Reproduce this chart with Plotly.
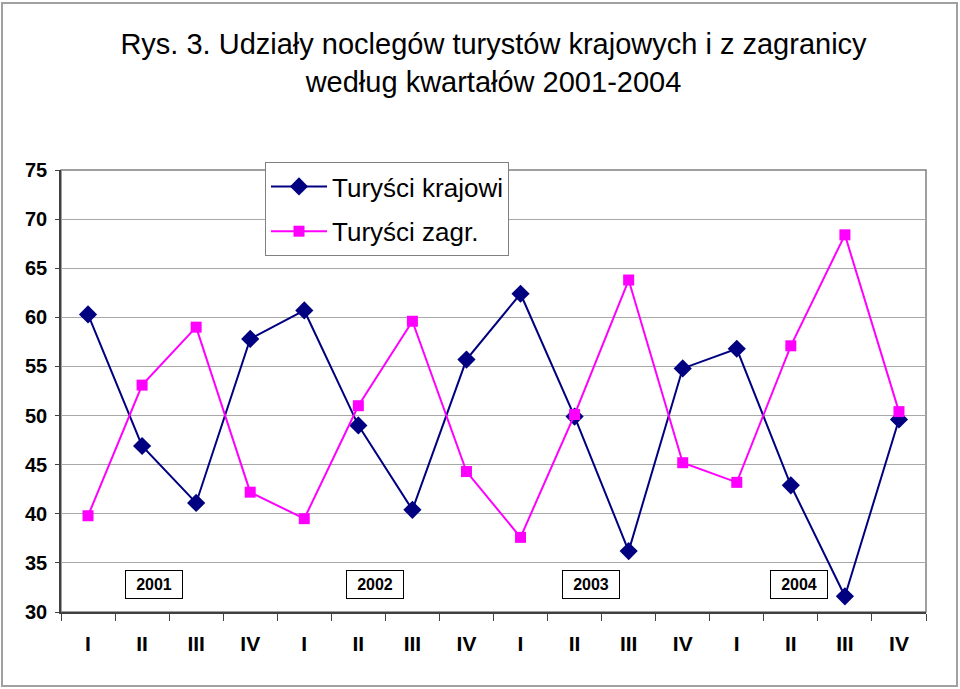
import plotly.graph_objects as go

quarters = ["I", "II", "III", "IV"] * 4
years = ["2001", "2002", "2003", "2004"]
year_pos = [1.22, 5.31, 9.3, 13.16]

krajowi = [60.3, 46.9, 41.1, 57.8, 60.7, 49.0, 40.4, 55.7,
           62.4, 49.9, 36.2, 54.8, 56.8, 42.9, 31.6, 49.6]
zagr = [39.8, 53.1, 59.0, 42.2, 39.5, 51.0, 59.6, 44.3,
        37.6, 50.1, 63.8, 45.2, 43.2, 57.1, 68.4, 50.4]

x = list(range(len(quarters)))

L, R, T, B = 61, 34, 170, 77
W, H = 960, 689
pw, ph = W - L - R, H - T - B

def px(xp):
    return (xp - L) / pw

def py(yp):
    return (H - B - yp) / ph

fig = go.Figure()
fig.add_trace(go.Scatter(
    x=x, y=krajowi, mode="lines+markers", name="Turyści krajowi",
    legendgroup="k",
    line=dict(color="#000080", width=2),
    marker=dict(symbol="diamond", size=14, color="#000080"),
))
fig.add_trace(go.Scatter(
    x=x, y=zagr, mode="lines+markers", name="Turyści zagr.",
    legendgroup="z",
    line=dict(color="#ff00ff", width=2),
    marker=dict(symbol="square", size=11, color="#ff00ff"),
))

# year boxes
for yr, pos in zip(years, year_pos):
    fig.add_annotation(
        x=pos, y=32.75, text=yr, showarrow=False,
        font=dict(size=16, color="black", family="Liberation Sans, Arial", weight="bold"),
        bordercolor="black", borderwidth=1, borderpad=5, bgcolor="white",
        width=46,
    )

# plot area frame (gray) and outer frame
fig.add_shape(type="rect", xref="paper", yref="paper", x0=0, x1=1, y0=0, y1=1,
              line=dict(color="#808080", width=1.5), layer="below")
fig.add_shape(type="rect", xref="paper", yref="paper",
              x0=px(2), x1=px(957), y0=py(686), y1=py(3),
              line=dict(color="#a0a0a0", width=2))

fig.update_layout(
    width=W, height=H,
    margin=dict(l=L, r=R, t=T, b=B),
    paper_bgcolor="white", plot_bgcolor="white",
    font=dict(family="Liberation Sans, Arial", color="black"),
    title=dict(
        text="Rys. 3. Udziały noclegów turystów krajowych i z zagranicy<br>według kwartałów 2001-2004",
        x=0.5, xref="paper", xanchor="center", y=1 - 54 / H, yanchor="middle",
        font=dict(size=29, color="black"),
    ),
    showlegend=True,
    legend=dict(
        x=px(265), y=py(162), xanchor="left", yanchor="top",
        bgcolor="white", bordercolor="#808080", borderwidth=1,
        font=dict(size=26, color="black"), itemwidth=56,
        tracegroupgap=8,
    ),
    xaxis=dict(
        range=[-0.5, 15.5], tickvals=x, ticktext=quarters, ticks="",
        showgrid=False, zeroline=False, showline=True, linecolor="#404040", linewidth=1.5,
        tickfont=dict(size=21, color="black", weight="bold"), ticklabelstandoff=12,
        minor=dict(tick0=-0.5, dtick=1, ticks="outside", ticklen=7, tickcolor="#404040", showgrid=False),
    ),
    yaxis=dict(
        range=[30, 75], dtick=5, ticks="outside", ticklen=4, tickcolor="#404040",
        showgrid=True, gridcolor="#a8a8a8", gridwidth=1.2, zeroline=False,
        showline=True, linecolor="#404040", linewidth=1.5,
        tickfont=dict(size=20, color="black", weight="bold"), ticklabelstandoff=4,
    ),
)

fig.write_html("out.html", config={"displayModeBar": False},
               post_script="document.body.style.margin='0';")
